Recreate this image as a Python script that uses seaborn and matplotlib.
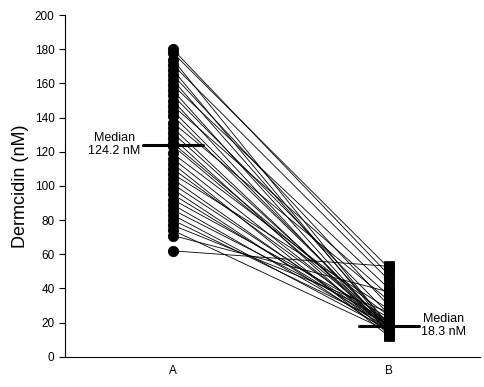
import matplotlib
matplotlib.use('Agg')
import matplotlib.pyplot as plt
import seaborn as sns
import pandas as pd

# paired dermcidin values (nM), same subject order in both lists
group_a = [180, 178, 174, 171, 168, 165, 162, 159, 156, 153, 150, 147, 144, 141,
           137, 134, 131, 128, 125, 123.5, 119, 116, 113, 110, 107, 104, 101, 98,
           95, 92, 89, 86, 83, 80, 77, 74, 71, 62]
group_b = [48, 52, 18.2, 45, 17, 30, 19, 40, 16, 25, 14, 36, 17.2, 18, 33, 15,
           16.8, 13, 19.5, 17.5, 24, 16.5, 12, 18.4, 28, 15.5, 18.1, 14.5, 18, 23,
           17, 21.5, 16, 19, 26, 15, 38, 53]
categories = ['A', 'B']
medians = [124.2, 18.3]
median_labels = ['Median\n124.2 nM', 'Median\n18.3 nM']

n = len(group_a)
df = pd.DataFrame({
    'subject': list(range(n)) * 2,
    'group': [0] * n + [1] * n,
    'value': group_a + group_b,
})

sns.set_style('white')
plt.rcParams['font.family'] = ['Liberation Sans', 'DejaVu Sans']
plt.rcParams['text.color'] = 'black'

fig = plt.figure(figsize=(4.84, 3.87), dpi=100)
ax = fig.add_axes([0.134, 0.078, 0.858, 0.883])

sns.lineplot(data=df, x='group', y='value', units='subject', estimator=None,
             color='black', linewidth=0.6, ax=ax, legend=False)
sns.scatterplot(data=df[df['group'] == 0], x='group', y='value', marker='o',
                s=55, color='black', edgecolor='black', ax=ax, legend=False, zorder=3)
sns.scatterplot(data=df[df['group'] == 1], x='group', y='value', marker='s',
                s=42, color='black', edgecolor='black', ax=ax, legend=False, zorder=3)

# median bars and labels
for i, (m, lab) in enumerate(zip(medians, median_labels)):
    ax.plot([i - 0.14, i + 0.14], [m, m], color='black', linewidth=2.2, zorder=4)
    if i == 0:
        ax.text(i - 0.15, m, lab, ha='right', va='center', fontsize=9,
                linespacing=1.1, multialignment='center')
    else:
        ax.text(i + 0.15, m, lab, ha='left', va='center', fontsize=9,
                linespacing=1.1, multialignment='center')

ax.set_xlim(-0.5, 1.423)
ax.set_ylim(0, 200)
ax.set_yticks(range(0, 201, 20))
ax.set_xticks([0, 1])
ax.set_xticklabels(categories)
ax.set_xlabel('')
ax.set_ylabel('Dermcidin (nM)', fontsize=13, color='black')
ax.tick_params(axis='y', direction='out', length=4, width=0.8, labelsize=8.5,
               left=True, colors='black')
ax.tick_params(axis='x', length=0, labelsize=8.5, pad=6, colors='black')
sns.despine(ax=ax)
for s in ['left', 'bottom']:
    ax.spines[s].set_color('black')
    ax.spines[s].set_linewidth(0.8)

fig.savefig('out.png', dpi=100)
